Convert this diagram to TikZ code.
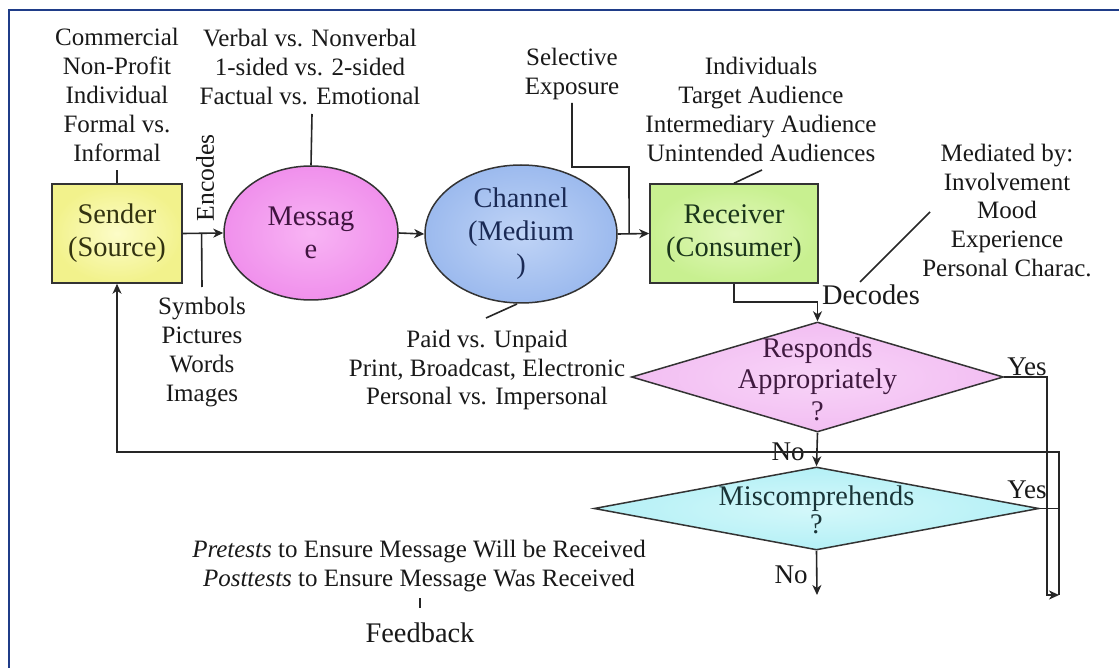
\documentclass[tikz,border=0pt]{standalone}
\usepackage{fontspec}
\setmainfont{Liberation Serif}
\usetikzlibrary{shapes.geometric,arrows.meta,calc}
\definecolor{framecol}{HTML}{1F3C88}
\definecolor{sendtxt}{HTML}{333310}
\definecolor{msgtxt}{HTML}{401440}
\definecolor{chtxt}{HTML}{1A2A55}
\definecolor{rectxt}{HTML}{1A351A}
\definecolor{resptxt}{HTML}{401A40}
\definecolor{misctxt}{HTML}{1A3538}
\definecolor{sendin}{HTML}{FCFCC8}
\definecolor{sendout}{HTML}{F2F28C}
\definecolor{msgin}{HTML}{F8B4F4}
\definecolor{msgout}{HTML}{F090EC}
\definecolor{chin}{HTML}{C0D4F6}
\definecolor{chout}{HTML}{9CBAEE}
\definecolor{recin}{HTML}{E2F8BC}
\definecolor{recout}{HTML}{C8F090}
\definecolor{respin}{HTML}{F8D4F8}
\definecolor{respout}{HTML}{F2BEF2}
\definecolor{miscin}{HTML}{D4F8FA}
\definecolor{miscout}{HTML}{B4F0F6}
\begin{document}
\begin{tikzpicture}[x=0.5pt,y=-0.5pt,
 lbl/.style={font=\fontsize{12.5}{14.4}\selectfont, align=center, inner sep=0pt, text=black!90},
 big/.style={font=\fontsize{14.2}{16.5}\selectfont, align=center, inner sep=0pt, text=black!90},
 ln/.style={line width=0.8pt, draw=black!85},
 arr/.style={ln, -{Stealth[length=5pt,width=4.5pt,inset=1.5pt]}},
 border/.style={draw=black!80, line width=0.75pt},
]
\useasboundingbox (0,0) rectangle (1119,668);
\clip (0,0) rectangle (1119,668);
\fill[white] (0,0) rectangle (1119,668);
\draw[framecol, line width=1.1pt] (9,10) rectangle (1160,710);

% main nodes
\node[border, rectangle, minimum width=65pt, minimum height=49.5pt, inner sep=0pt,
      inner color=sendin, outer color=sendout, big, text=sendtxt] (sender) at (117,233.5) {Sender\\(Source)};
\node[border, ellipse, minimum width=87pt, minimum height=67pt, inner sep=0pt,
      inner color=msgin, outer color=msgout, big, text=msgtxt] (message) at (311,233) {Messag\\e};
\node[border, ellipse, minimum width=96pt, minimum height=69pt, inner sep=0pt,
      inner color=chin, outer color=chout, big, text=chtxt] (channel) at (521,234) {Channel\\(Medium\\)};
\node[border, rectangle, minimum width=84pt, minimum height=49.5pt, inner sep=0pt,
      inner color=recin, outer color=recout, big, text=rectxt] (receiver) at (734,233.5) {Receiver\\(Consumer)};
\node[border, diamond, minimum width=186pt, minimum height=55pt, inner sep=0pt,
      inner color=respin, outer color=respout] (resp) at (817.5,377) {};
\node[big, font=\fontsize{14.2}{15.75}\selectfont, text=resptxt] (resptext) at (817.5,379) {Responds\\Appropriately\\?};
\node[border, diamond, minimum width=222.5pt, minimum height=41.5pt, inner sep=0pt,
      inner color=miscin, outer color=miscout] (misc) at (816.5,508.5) {};
\node[big, font=\fontsize{14.2}{14}\selectfont, text=misctxt] (misctext) at (816.5,510) {Miscomprehends\\?};

% labels
\node[lbl] (srclbl) at (117,95) {Commercial\\Non-Profit\\Individual\\Formal vs.\\Informal};
\node[lbl] (msglbl) at (310,67) {Verbal vs. Nonverbal\\1-sided vs. 2-sided\\Factual vs. Emotional};
\node[lbl] (sellbl) at (572,74) {Selective\\Exposure};
\node[lbl] (audlbl) at (761,109.5) {Individuals\\Target Audience\\Intermediary Audience\\Unintended Audiences};
\node[lbl] (medlbl) at (1007,210.5) {Mediated by:\\Involvement\\Mood\\Experience\\Personal Charac.};
\node[lbl] (symlbl) at (202,352) {Symbols\\Pictures\\Words\\Images};
\node[lbl] (chlbl) at (487,370) {Paid vs. Unpaid\\Print, Broadcast, Electronic\\Personal vs. Impersonal};
\node[lbl] (testlbl) at (419,566) {\textit{Pretests} to Ensure Message Will be Received\\\textit{Posttests} to Ensure Message Was Received};
\node[big] (fb) at (420,633) {Feedback};
\node[lbl, font=\fontsize{12.8}{14.4}\selectfont, rotate=90] (enc) at (205,178) {Encodes};
\node[big] (dec) at (871,295) {Decodes};
\node[big, font=\fontsize{13.5}{14}\selectfont] (yes1) at (1027,367) {Yes};
\node[big, font=\fontsize{13.5}{14}\selectfont] (yes2) at (1027,490) {Yes};
\node[big, font=\fontsize{13.5}{14}\selectfont] (no1) at (788,452) {No};
\node[big, font=\fontsize{13.5}{14}\selectfont] (no2) at (791,575) {No};

% free-end coordinates
\coordinate (srcend) at (117,170);
\coordinate (msgend) at (312,114);
\coordinate (symend) at (202,287);
\coordinate (chA) at (517,304);
\coordinate (chB) at (486,318);
\coordinate (selA) at (572,103);
\coordinate (selC) at (629,167);
\coordinate (audA) at (762,170);
\coordinate (decA) at (860,282);
\coordinate (decB) at (930,212);
\coordinate (rbot) at (1047,595);
\coordinate (fbR) at (1059,595);
\coordinate (fbL) at (117,452);
\coordinate (noend) at (817,595);
\coordinate (tickA) at (420,598);
\coordinate (tickB) at (420,608);

% connectors
\draw[arr] (sender.east) -- (message.west);
\draw[arr] (message.east) -- (channel.west);
\draw[arr] (channel.east) -- (receiver.west);
\path (sender.east) -- (message.west) coordinate[pos=0.465] (encpt);
\draw[ln] (encpt) -- (symend);
\draw[ln] (sender.north) -- (srcend);
\draw[ln] (message.north) -- (msgend);
\draw[ln] (chA) -- (chB);
\path (channel.east) -- (receiver.west) coordinate[pos=0.36] (selD);
\draw[ln] (selA) |- (selC) -- (selD);
\draw[ln] (audA) -- (receiver.north);
\draw[arr] (receiver.south) -- ++(0,18) -| (resp.north);
\draw[ln] (decA) -- (decB);
\draw[arr] (resp.south) -- (misc.north);
\draw[arr] (misc.south) -- (noend);
\draw[arr] (resp.east) -| (rbot) -- (fbR);
\draw[arr] (fbR) |- (fbL) -- (sender.south);
\draw[ln] (misc.east) -- (misc.east -| fbR);
\draw[line width=0.6pt, black!85] (tickA) -- (tickB);
\end{tikzpicture}
\end{document}
